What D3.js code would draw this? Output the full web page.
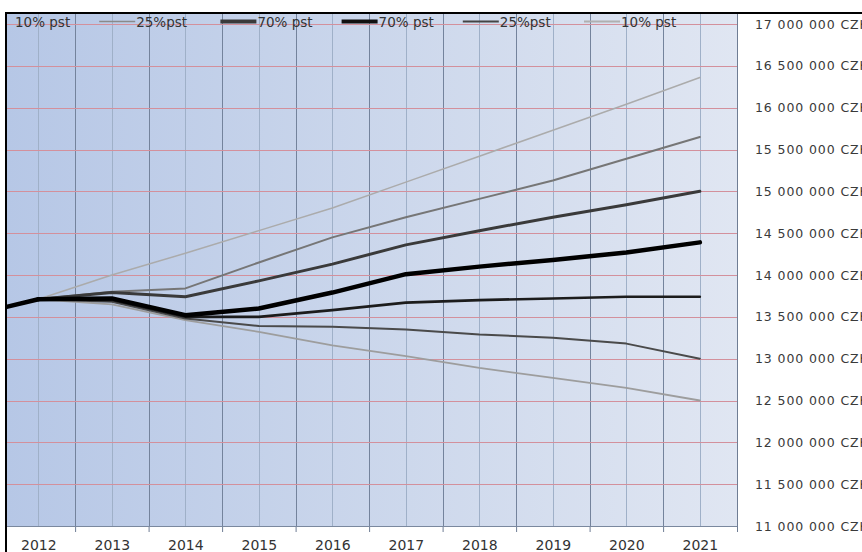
<!DOCTYPE html>
<html>
<head>
<meta charset="utf-8">
<script src="https://cdn.jsdelivr.net/npm/d3@7"></script>
<style>
  html, body { margin: 0; padding: 0; background: #ffffff; }
  svg { display: block; }
  text { font-family: "DejaVu Sans", Verdana, sans-serif; }
</style>
</head>
<body>
<svg id="chart" width="862" height="552"></svg>
<script>
// Years on the category axis
const years = [2012, 2013, 2014, 2015, 2016, 2017, 2018, 2019, 2020, 2021];

// Observed value leading into the forecast (2011 -> 2012)
const historyYears = [2011, 2012];
const historyValues = [13500000, 13710000];

// Forecast fan: probability bands around the central path (CZK)
const up10   = [13710000, 14000000, 14260000, 14530000, 14800000, 15110000, 15420000, 15730000, 16040000, 16360000];
const up25   = [13710000, 13800000, 13840000, 14150000, 14450000, 14690000, 14910000, 15130000, 15390000, 15650000];
const up70   = [13710000, 13790000, 13740000, 13930000, 14130000, 14360000, 14530000, 14690000, 14840000, 15000000];
const central = [13710000, 13720000, 13520000, 13600000, 13790000, 14010000, 14100000, 14180000, 14270000, 14390000];
const down70 = [13710000, 13700000, 13500000, 13500000, 13580000, 13670000, 13700000, 13720000, 13740000, 13740000];
const down25 = [13710000, 13680000, 13480000, 13390000, 13380000, 13350000, 13290000, 13250000, 13180000, 13000000];
const down10 = [13710000, 13650000, 13460000, 13320000, 13160000, 13030000, 12890000, 12770000, 12650000, 12500000];

// Value axis ticks
const yTicks = [11000000, 11500000, 12000000, 12500000, 13000000, 13500000, 14000000,
                14500000, 15000000, 15500000, 16000000, 16500000, 17000000];

// Legend labels
const legendLabels = ["10% pst", "25%pst", "70% pst", "70% pst", "25%pst", "10% pst"];

// ---- styles ----
const seriesStyles = [
  { values: up10,    color: "#ababab", width: 1.5 },
  { values: down10,  color: "#9d9d9d", width: 1.8 },
  { values: up25,    color: "#767676", width: 2 },
  { values: down25,  color: "#4a4a4a", width: 2 },
  { values: up70,    color: "#3a3a3a", width: 3 },
  { values: down70,  color: "#1c1c1c", width: 2.6 },
  { values: central, color: "#000000", width: 4.5 }
];
const legendStyles = [
  null,
  { color: "#8a8a8a", width: 1.6 },
  { color: "#3a3a3a", width: 4 },
  { color: "#111111", width: 4 },
  { color: "#444444", width: 2 },
  { color: "#b0b0b0", width: 2 }
];

const svg = d3.select("#chart");
const W = 862, H = 552;

// plot frame
const plot = { left: 6, top: 13, right: 737, bottom: 526 };

const x = d3.scaleLinear().domain([2011.5, 2021.5]).range([1.6, 736.6]);
const y = d3.scaleLinear().domain([11000000, 17000000]).range([526, 24]);

const defs = svg.append("defs");
const grad = defs.append("linearGradient").attr("id", "plotBg")
  .attr("x1", "0%").attr("y1", "0%").attr("x2", "100%").attr("y2", "0%");
grad.append("stop").attr("offset", "0%").attr("stop-color", "#b6c7e6");
grad.append("stop").attr("offset", "55%").attr("stop-color", "#cdd8ec");
grad.append("stop").attr("offset", "100%").attr("stop-color", "#e0e6f2");

defs.append("clipPath").attr("id", "plotClip")
  .append("rect")
  .attr("x", plot.left).attr("y", plot.top)
  .attr("width", plot.right - plot.left).attr("height", plot.bottom - plot.top);

svg.append("rect").attr("width", W).attr("height", H).attr("fill", "#ffffff");

svg.append("rect")
  .attr("x", plot.left).attr("y", plot.top)
  .attr("width", plot.right - plot.left).attr("height", plot.bottom - plot.top)
  .attr("fill", "url(#plotBg)");

const grid = svg.append("g").attr("clip-path", "url(#plotClip)");

// vertical grid: category centres (light) and category boundaries (darker)
const boundaries = d3.range(2012.5, 2021.5, 1);
grid.selectAll("line.vc").data(years).join("line")
  .attr("x1", d => Math.round(x(d)) + 0.5).attr("x2", d => Math.round(x(d)) + 0.5)
  .attr("y1", plot.top).attr("y2", plot.bottom)
  .attr("stroke", "#9fb0c8").attr("stroke-width", 1);
grid.selectAll("line.vb").data(boundaries).join("line")
  .attr("x1", d => Math.round(x(d)) + 0.5).attr("x2", d => Math.round(x(d)) + 0.5)
  .attr("y1", plot.top).attr("y2", plot.bottom)
  .attr("stroke", "#74839c").attr("stroke-width", 1);

// horizontal grid lines
grid.selectAll("line.h").data(yTicks.slice(1)).join("line")
  .attr("x1", plot.left).attr("x2", plot.right)
  .attr("y1", d => Math.round(y(d)) + 0.5).attr("y2", d => Math.round(y(d)) + 0.5)
  .attr("stroke", "#d3909c").attr("stroke-width", 1);

// series lines
const line = d3.line().x(d => x(d[0])).y(d => y(d[1]));
const lines = svg.append("g").attr("clip-path", "url(#plotClip)");
seriesStyles.forEach(s => {
  lines.append("path")
    .attr("d", line(years.map((yr, i) => [yr, s.values[i]])))
    .attr("fill", "none")
    .attr("stroke", s.color)
    .attr("stroke-width", s.width)
    .attr("stroke-linejoin", "round")
    .attr("stroke-linecap", "round");
});
lines.append("path")
  .attr("d", line(historyYears.map((yr, i) => [yr, historyValues[i]])))
  .attr("fill", "none")
  .attr("stroke", "#000000")
  .attr("stroke-width", 4.5)
  .attr("stroke-linecap", "round");

// right and bottom edges of the plot
svg.append("line")
  .attr("x1", plot.right + 0.5).attr("x2", plot.right + 0.5)
  .attr("y1", plot.top).attr("y2", plot.bottom + 6)
  .attr("stroke", "#6f7d94").attr("stroke-width", 1);

// category axis: tick marks at boundaries, labels at centres
const xTickAxis = d3.axisBottom(x).tickValues(boundaries).tickSize(6).tickFormat("");
const gxt = svg.append("g").attr("transform", `translate(0,${plot.bottom})`).call(xTickAxis);
gxt.select(".domain").remove();
gxt.selectAll(".tick line").attr("stroke", "#6f7d94");
svg.append("line")
  .attr("x1", plot.left).attr("x2", plot.right)
  .attr("y1", plot.bottom + 0.5).attr("y2", plot.bottom + 0.5)
  .attr("stroke", "#7a889e").attr("stroke-width", 1);

const xLabelAxis = d3.axisBottom(x).tickValues(years).tickSize(0).tickPadding(14)
  .tickFormat(d3.format("d"));
const gxl = svg.append("g").attr("transform", `translate(0,${plot.bottom})`).call(xLabelAxis);
gxl.select(".domain").remove();
gxl.selectAll("text")
  .attr("font-family", "DejaVu Sans, sans-serif")
  .attr("font-size", 14)
  .attr("fill", "#333333");

// value axis on the right
const fmt = v => d3.format(",")(v).replace(/,/g, " ") + " CZK";
const yAxis = d3.axisRight(y).tickValues(yTicks).tickSize(0).tickPadding(18).tickFormat(fmt);
const gy = svg.append("g").attr("transform", `translate(${plot.right},0)`).call(yAxis);
gy.select(".domain").remove();
gy.selectAll("text")
  .attr("font-family", "DejaVu Sans, sans-serif")
  .attr("font-size", 12.5)
  .attr("letter-spacing", "0.9px")
  .attr("fill", "#3a3a3a");

// legend across the top of the plot
const legend = svg.append("g").attr("clip-path", "url(#plotClip)");
legendLabels.forEach((lab, i) => {
  const tx = 15 + i * 121.2;
  const st = legendStyles[i];
  if (st) {
    legend.append("line")
      .attr("x1", tx - 37).attr("x2", tx - 1)
      .attr("y1", 21.5).attr("y2", 21.5)
      .attr("stroke", st.color).attr("stroke-width", st.width);
  }
  legend.append("text")
    .attr("x", tx).attr("y", 27)
    .attr("font-size", 13.5)
    .attr("fill", "#333333")
    .text(lab);
});

// outer frame (top and left)
svg.append("line")
  .attr("x1", plot.left - 1).attr("x2", W)
  .attr("y1", plot.top).attr("y2", plot.top)
  .attr("stroke", "#000000").attr("stroke-width", 2);
svg.append("line")
  .attr("x1", plot.left).attr("x2", plot.left)
  .attr("y1", plot.top - 1).attr("y2", H)
  .attr("stroke", "#000000").attr("stroke-width", 2);
</script>
</body>
</html>
